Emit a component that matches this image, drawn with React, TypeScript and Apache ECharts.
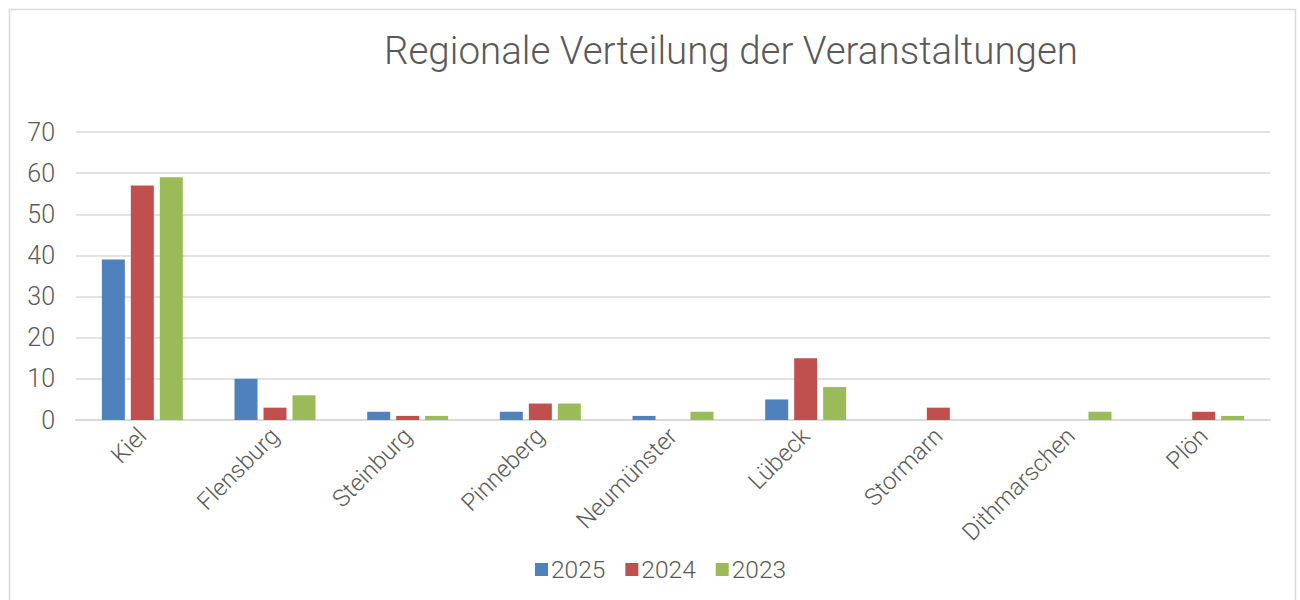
import React, { useEffect, useRef } from "react";
import * as echarts from "echarts";

const categories = ["Kiel", "Flensburg", "Steinburg", "Pinneberg", "Neumünster", "Lübeck", "Stormarn", "Dithmarschen", "Plön"];
const values2025 = [39, 10, 2, 2, 1, 5, 0, 0, 0];
const values2024 = [57, 3, 1, 4, 0, 15, 3, 0, 2];
const values2023 = [59, 6, 1, 4, 2, 8, 0, 2, 1];
const seriesNames = ["2025", "2024", "2023"];
const colors = ["#4f81bd", "#c0504d", "#9bbb59"];

export default function App() {
  const ref = useRef<HTMLDivElement>(null);
  useEffect(() => {
    document.body.style.margin = "0";
    const chart = echarts.init(ref.current!, null, { renderer: "svg" });
    const font = "Roboto, 'Liberation Sans', sans-serif";
    const data = [values2025, values2024, values2023];
    chart.setOption({
      animation: false,
      color: colors,
      textStyle: { fontFamily: font },
      title: {
        text: "Regionale Verteilung der Veranstaltungen",
        left: 726,
        top: 26,
        textAlign: "center",
        textStyle: { fontSize: 38.5, fontWeight: 300, color: "#595959", fontFamily: font },
      },
      graphic: [
        {
          type: "rect",
          shape: { x: 9.5, y: 9.5, width: 1286, height: 600 },
          style: { fill: "none", stroke: "#d9d9d9", lineWidth: 1.5 },
          silent: true,
        },
      ],
      legend: {
        bottom: 13,
        left: 530,
        itemWidth: 13,
        itemHeight: 13,
        itemGap: 20,
        icon: "rect",
        textStyle: { fontSize: 24.5, fontWeight: 300, color: "#595959", fontFamily: font, padding: [0, 0, 0, -2] },
        data: seriesNames,
      },
      grid: { left: 76, right: 30, top: 132, bottom: 180, containLabel: false },
      xAxis: {
        type: "category",
        data: categories,
        axisLine: { lineStyle: { color: "#d9d9d9", width: 2 } },
        axisTick: { show: false },
        axisLabel: { rotate: 45, fontSize: 24, fontWeight: 300, color: "#595959", margin: 12, fontFamily: font },
      },
      yAxis: {
        type: "value",
        min: 0,
        max: 70,
        interval: 10,
        axisLine: { show: false },
        axisTick: { show: false },
        splitLine: { lineStyle: { color: "#d9d9d9", width: 1.5 } },
        axisLabel: { fontSize: 25, fontWeight: 300, color: "#595959", margin: 21, fontFamily: font },
      },
      series: seriesNames.map((name, i) => ({
        name,
        type: "bar",
        data: data[i],
        barWidth: 23,
        barGap: "26%",
        itemStyle: { color: colors[i] },
      })),
    });
    return () => chart.dispose();
  }, []);
  return <div ref={ref} style={{ width: 1300, height: 600 }} />;
}
